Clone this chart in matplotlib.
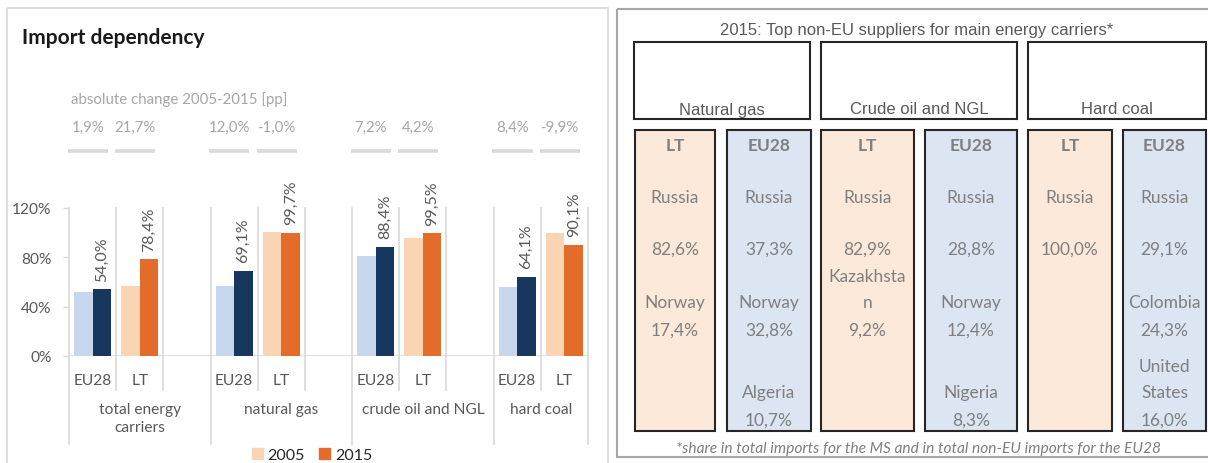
import matplotlib
matplotlib.use('Agg')
import matplotlib.pyplot as plt
from matplotlib.patches import Rectangle, Patch
import matplotlib.transforms as mtransforms

# ---------------- data ----------------
groups = ['total energy\ncarriers', 'natural gas', 'crude oil and NGL', 'hard coal']
regions = ['EU28', 'LT']
v2005_eu = [52.1, 57.1, 81.2, 55.7]
v2015_eu = [54.0, 69.1, 88.4, 64.1]
v2005_lt = [56.7, 100.7, 95.3, 100.0]
v2015_lt = [78.4, 99.7, 99.5, 90.1]
change_eu = ['1,9%', '12,0%', '7,2%', '8,4%']
change_lt = ['21,7%', '-1,0%', '4,2%', '-9,9%']
yticks = [0, 40, 80, 120]
ytick_labels = ['0%', '40%', '80%', '120%']
legend_labels = ['2005', '2015']

carriers = ['Natural gas', 'Crude oil and NGL', 'Hard coal']
cell_headers = ['LT', 'EU28', 'LT', 'EU28', 'LT', 'EU28']
ng_lt = ['Russia', '82,6%', '', 'Norway', '17,4%']
ng_eu = ['Russia', '37,3%', '', 'Norway', '32,8%', '', 'Algeria', '10,7%']
oil_lt = ['Russia', '82,9%', 'Kazakhsta', 'n', '9,2%']
oil_eu = ['Russia', '28,8%', '', 'Norway', '12,4%', '', 'Nigeria', '8,3%']
coal_lt = ['Russia', '100,0%']
coal_eu = ['Russia', '29,1%', '', 'Colombia', '24,3%', 'United', 'States', '16,0%']

# ---------------- style ----------------
W, H, DPI = 1208, 464, 100
C05_LT, C15_LT = '#FBD4B4', '#E46C2A'
C05_EU, C15_EU = '#C6D7EE', '#17375E'
GRID = '#D9D9D9'
TXT = '#595959'
LTXT = '#A6A6A6'
CAL = ['Lato', 'DejaVu Sans']
ARI = ['Liberation Sans', 'DejaVu Sans']

fig = plt.figure(figsize=(W / DPI, H / DPI), dpi=DPI)

# background overlay axes in pixel coordinates
bg = fig.add_axes([0, 0, 1, 1], zorder=0)
bg.set_xlim(0, W)
bg.set_ylim(H, 0)
bg.axis('off')

# panel frames
bg.add_patch(Rectangle((7, 9), 601, 470, fill=False, ec=GRID, lw=1.2, clip_on=False))
bg.add_patch(Rectangle((617, 10), 610, 448, fill=False, ec='#A6A6A6', lw=1.5, clip_on=False))

bg.text(22, 38, 'Import dependency', fontsize=15, fontweight='bold', color='#1a1a1a',
        family=CAL, va='center', ha='left')
bg.text(71, 100, 'absolute change 2005-2015 [pp]', fontsize=10.8, color=LTXT,
        family=CAL, va='center', ha='left')

# ---------------- bar chart ----------------
x0, x1, ytop, ybot = 69, 588, 209, 357
ax = fig.add_axes([x0 / W, (H - ybot) / H, (x1 - x0) / W, (ybot - ytop) / H], zorder=2)
ax.patch.set_alpha(0)
nslots = 11
ax.set_xlim(0, nslots)
ax.set_ylim(0, 120)
for s in ax.spines.values():
    s.set_visible(False)
ax.set_yticks(yticks)
ax.set_yticklabels(ytick_labels, family=CAL, fontsize=11.2, color=TXT)
ax.tick_params(axis='y', length=4, width=1, color=GRID, pad=8.5)
ax.set_xticks([])
ax.axhline(0, color=GRID, lw=1.2, zorder=1)

bw = 0.39
trans = mtransforms.blended_transform_factory(ax.transData, ax.transAxes)
starts = [0, 3, 6, 9]
for g in range(4):
    s = starts[g]
    ce = s + 0.5
    cl = s + 1.5
    ax.bar(ce - bw / 2, v2005_eu[g], bw, color=C05_EU, zorder=2)
    ax.bar(ce + bw / 2, v2015_eu[g], bw, color=C15_EU, zorder=2)
    ax.bar(cl - bw / 2, v2005_lt[g], bw, color=C05_LT, zorder=2)
    ax.bar(cl + bw / 2, v2015_lt[g], bw, color=C15_LT, zorder=2)
    for cx, v in ((ce + bw / 2, v2015_eu[g]), (cl + bw / 2, v2015_lt[g])):
        ax.text(cx, v + 7.0, f'{v:.1f}%'.replace('.', ','), rotation=90, ha='center',
                va='bottom', fontsize=11.5, color=TXT, family=CAL, clip_on=False)
    # tick labels
    for cx, lab in ((ce, regions[0]), (cl, regions[1])):
        ax.text(cx, -0.16, lab, transform=trans, ha='center', va='center',
                fontsize=11.2, color=TXT, family=CAL)
    # group labels
    gend = s + 3 if g < 3 else s + 2
    ax.text((s + gend) / 2, -0.31, groups[g], transform=trans, ha='center', va='top',
            fontsize=11.2, color=TXT, family=CAL, linespacing=1.35)
    # change labels with gray bars
    for cx, lab in ((ce - 0.1, change_eu[g]), (cl - 0.1, change_lt[g])):
        ax.text(cx, 1.547, lab, transform=trans, ha='center', va='center',
                fontsize=10.8, color=LTXT, family=CAL, clip_on=False)
        ax.plot([cx - 0.425, cx + 0.425], [1.385, 1.385], transform=trans, color=GRID,
                lw=2.6, solid_capstyle='butt', clip_on=False)

# vertical separators
group_bounds = [0, 3, 6, 9, 11]
for b in range(nslots + 1):
    low = -0.595 if b in group_bounds else -0.23
    ax.plot([b, b], [low, 1.0], transform=trans, color=GRID, lw=1.2, clip_on=False, zorder=1)

# legend
handles = [Patch(color=C05_LT), Patch(color=C15_LT)]
fig.legend(handles, legend_labels, loc='center', bbox_to_anchor=(312 / W, (H - 456) / H),
           ncol=2, frameon=False, handlelength=0.7, handleheight=0.7, handletextpad=0.3,
           columnspacing=0.9, prop={'family': CAL, 'size': 11.5}, labelcolor='#262626',
           borderpad=0, borderaxespad=0)

# ---------------- right panel ----------------
bg.text(917, 30, '2015: Top non-EU suppliers for main energy carriers*', fontsize=12,
        color=TXT, family=ARI, ha='center', va='center')
head_boxes = [(634, 810), (821, 1017), (1028, 1206)]
for (a, b), lab in zip(head_boxes, carriers):
    bg.add_patch(Rectangle((a, 43), b - a, 77, fc='white', ec='#262626', lw=1.5))
    bg.text((a + b) / 2, 110, lab, fontsize=12, color=TXT, family=ARI,
            ha='center', va='center')

cells = [(635, 715), (727, 811), (821, 914), (925, 1017), (1028, 1112), (1123, 1206)]
contents = [ng_lt, ng_eu, oil_lt, oil_eu, coal_lt, coal_eu]
fills = ['#FDE9D9', '#DCE6F2'] * 3
row_y = [198, 250, 277, 303, 331, 367, 393, 421]
for (a, b), head, lines, fc in zip(cells, cell_headers, contents, fills):
    bg.add_patch(Rectangle((a, 131), b - a, 301, fc=fc, ec='#262626', lw=1.5))
    cx = (a + b) / 2
    bg.text(cx, 146, head, fontsize=12.5, fontweight='bold', color='#7F7F7F', family=CAL,
            ha='center', va='center')
    for i, t in enumerate(lines):
        if t:
            bg.text(cx, row_y[i], t, fontsize=12.5, color='#7F7F7F', family=CAL,
                    ha='center', va='center')

bg.text(918, 449, '*share in total imports for the MS and in total non-EU imports for the EU28',
        fontsize=11.2, style='italic', color='#7F7F7F', family=CAL, ha='center', va='center')

fig.savefig('out.png', dpi=DPI)
